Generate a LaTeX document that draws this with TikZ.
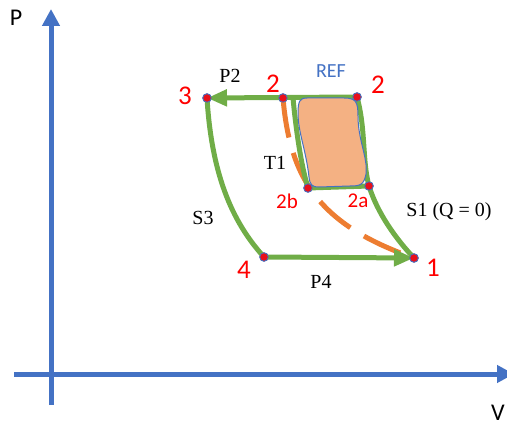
\documentclass[tikz,border=0pt]{standalone}
\usepackage{fontspec}
\setmainfont{Liberation Serif}
\newfontfamily\calfont{Carlito}
\usetikzlibrary{arrows.meta}
\definecolor{axblue}{HTML}{4472C4}
\definecolor{pgreen}{HTML}{70AD47}
\definecolor{porange}{HTML}{ED7D31}
\definecolor{blobfill}{HTML}{F4B183}
\definecolor{pred}{HTML}{FF0000}
\definecolor{dotred}{HTML}{E8101A}
\begin{document}
\begin{tikzpicture}[x=1pt,y=-1pt,
  axisline/.style={draw=axblue,line width=5pt},
  axistip/.style={-{Triangle[length=17pt,width=17pt]}},
  greenline/.style={draw=pgreen,line width=5pt},
  greentip/.style={-{Triangle[length=20pt,width=16pt]}},
  orangedash/.style={draw=porange,line width=5pt,dash pattern=on 40pt off 16pt},
  blob/.style={fill=blobfill,draw=axblue,line width=1pt},
  pt/.style={circle,fill=dotred,draw=axblue,line width=0.8pt,inner sep=0pt,minimum size=8.5pt},
  numlbl/.style={text=pred,font=\calfont\fontsize{27}{30}\selectfont,inner sep=0pt},
  sublbl/.style={text=pred,font=\calfont\fontsize{21}{24}\selectfont,inner sep=0pt},
  serlbl/.style={text=black,font=\fontsize{20}{23}\selectfont,inner sep=0pt},
  axlbl/.style={text=black,font=\calfont\fontsize{24}{28}\selectfont,inner sep=0pt}
]
\useasboundingbox (0,0) rectangle (507,428);

% axes
\coordinate (yb) at (51,405);
\coordinate (yt) at (51,9);
\coordinate (xl) at (14,374);
\coordinate (xr) at (514,374);
\draw[axisline,axistip] (yb) -- (yt);
\draw[axisline,axistip] (xl) -- (xr);
\node[axlbl] (Plbl) at (16,18) {P};
\node[axlbl] (Vlbl) at (498,413) {V};

% points
\node[pt] (p3) at (207,98) {};
\node[pt] (p2L) at (283,98) {};
\node[pt] (p2R) at (357,97) {};
\node[pt] (p2b) at (308,188) {};
\node[pt] (p2a) at (369,186) {};
\node[pt] (p1) at (414,258) {};
\node[pt] (p4) at (264,257) {};
\coordinate (cTL) at (293,98);

% orange dashed path
\draw[orangedash] (p2L.center) .. controls (290,180) and (320,225) .. (p1.center);

% green process lines
\draw[greenline] (cTL) .. controls (296,130) and (301,165) .. (p2b.center);
\draw[greenline] (p2b.center) -- (p2a.center);
\draw[greenline] (p2R.center) .. controls (366,130) and (362,160) .. (p2a.center)
   .. controls (377,212) and (395,238) .. (p1.center);
\draw[greenline] (p3.center) .. controls (212,180) and (235,225) .. (p4.center);
\draw[greenline,greentip] (p2R.center) -- (p3.center);
\draw[greenline,greentip] (p4.center) -- (p1.center);

% REF region
\draw[blob] (307,98) -- (344,98) .. controls (356,98) and (358,102) .. (358,116)
  .. controls (358,140) and (368,158) .. (366,174)
  .. controls (364,185) and (360,186) .. (350,186) -- (319,187)
  .. controls (312,187) and (310,185) .. (309,177)
  .. controls (306,150) and (298,132) .. (298,113)
  .. controls (298,101) and (300,98) .. (307,98) -- cycle;

% redraw dots on top
\foreach \n in {p3,p2L,p2R,p2b,p2a,p1,p4} {\node[pt] at (\n) {};}

% labels
\node[numlbl] (l3) at (185,96) {3};
\node[numlbl] (l2L) at (273,84) {2};
\node[numlbl] (l2R) at (378,85) {2};
\node[numlbl] (l4) at (244,270) {4};
\node[numlbl] (l1) at (433,268) {1};
\node[sublbl] (l2b) at (287,201) {2b};
\node[sublbl] (l2a) at (358,201) {2a};
\node[text=axblue,font=\calfont\fontsize{20}{23}\selectfont,inner sep=0pt] (lref) at (331,71) {REF};
\node[serlbl] (lP2) at (230,76) {P2};
\node[serlbl] (lT1) at (275,163) {T1};
\node[serlbl] (lS1) at (449,212) {S1 (Q = 0)};
\node[serlbl] (lS3) at (203,218) {S3};
\node[serlbl] (lP4) at (321,282) {P4};
\end{tikzpicture}
\end{document}
